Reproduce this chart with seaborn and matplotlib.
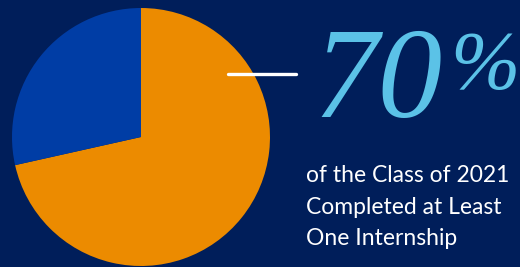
import matplotlib
matplotlib.use("Agg")
import matplotlib.pyplot as plt
import seaborn as sns
from matplotlib.lines import Line2D

labels = ["Completed an internship", "No internship"]
shares = [71.5, 28.5]
headline = "70"
caption = ["of the Class of 2021", "Completed at Least", "One Internship"]

bg = "#001e5a"
colors = ["#ec8b00", "#003da5"]

sns.set_theme(style="white")
plt.rcParams["font.family"] = ["Lato", "DejaVu Sans"]

fig = plt.figure(figsize=(5.2, 2.67), dpi=100, facecolor=bg)
ax = fig.add_axes([12 / 520, 1 / 267, 258 / 520, 258 / 267])
ax.set_facecolor(bg)
ax.pie(shares, colors=sns.color_palette(colors), startangle=90, counterclock=False,
       radius=1, wedgeprops=dict(linewidth=0))
ax.set_xlim(-1, 1)
ax.set_ylim(-1, 1)
ax.set_aspect("equal")
ax.axis("off")

# pointer line
fig.add_artist(Line2D([228 / 520, 296 / 520], [1 - 74 / 267, 1 - 74 / 267],
                      color="white", linewidth=2.4, solid_capstyle="round"))

fig.text(313 / 520, 1 - 117 / 267, headline, color="#5bc2e7", fontsize=93,
         family="Liberation Serif", style="italic", va="baseline", ha="left")
fig.text(450 / 520, 1 - 88 / 267, "%", color="#5bc2e7", fontsize=60,
         family="Liberation Serif", style="italic", va="baseline", ha="left")

for i, line in enumerate(caption):
    fig.text(306 / 520, 1 - (182 + 31.5 * i) / 267, line, color="white",
             fontsize=16.5, va="baseline", ha="left")

fig.savefig("out.png", dpi=100, facecolor=bg)
